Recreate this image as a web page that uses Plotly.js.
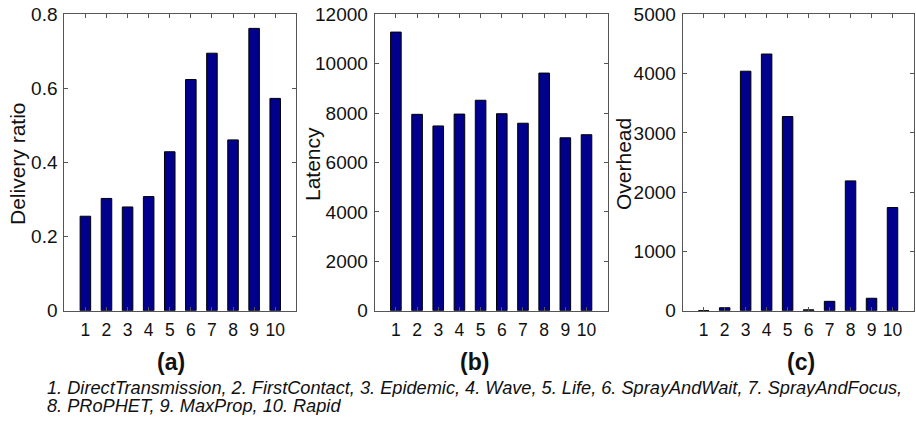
<!DOCTYPE html>
<html>
<head>
<meta charset="utf-8">
<script src="https://cdn.plot.ly/plotly-3.0.1.min.js"></script>
<style>html,body{margin:0;padding:0;background:#fff;}#chart{width:916px;height:422px;}</style>
</head>
<body>
<div id="chart"></div>
<script>
const protocols = [1, 2, 3, 4, 5, 6, 7, 8, 9, 10];
const tickLabels = ['1','2','3','4','5','6','7','8','9','10'];
const deliveryRatio = [0.255, 0.303, 0.280, 0.308, 0.429, 0.624, 0.695, 0.461, 0.762, 0.573];
const latency = [11280, 7950, 7480, 7960, 8520, 7975, 7590, 9620, 7000, 7125];
const overhead = [3, 50, 4040, 4330, 3275, 15, 158, 2190, 210, 1740];
const yTitles = ['Delivery ratio', 'Latency', 'Overhead'];
const panelLabels = ['(a)', '(b)', '(c)'];
const legendLine1 = '1. DirectTransmission, 2. FirstContact, 3. Epidemic, 4. Wave, 5. Life, 6. SprayAndWait, 7. SprayAndFocus,';
const legendLine2 = '8. PRoPHET, 9. MaxProp, 10. Rapid';

const W = 916, H = 422;
const FONT = 'Liberation Sans, Arial, sans-serif';
const px = v => v / W;
const py = v => 1 - v / H;

const barStyle = {color: '#00008C', line: {color: '#000', width: 1}};
const series = [deliveryRatio, latency, overhead];
const traces = series.map((vals, i) => ({
  type: 'bar', x: protocols, y: vals, width: 0.5,
  marker: barStyle, xaxis: i === 0 ? 'x' : 'x' + (i + 1), yaxis: i === 0 ? 'y' : 'y' + (i + 1),
  hoverinfo: 'x+y', showlegend: false
}));

const xDomains = [[64.3, 296.3], [374.7, 607.7], [682.7, 913.5]];
const yDomain = [py(310.7), py(14.3)];
const yRanges = [[0, 0.8], [0, 12000], [0, 5000]];
const yDtick = [0.2, 2000, 1000];

const axisCommon = {
  showline: true, linecolor: '#555', linewidth: 1, mirror: 'ticks',
  ticks: 'inside', ticklen: 4, tickcolor: '#555', showgrid: false, zeroline: false,
  fixedrange: true
};

const layout = {
  width: W, height: H, margin: {l: 0, r: 0, t: 0, b: 0},
  paper_bgcolor: '#fff', plot_bgcolor: '#fff', font: {family: FONT},
  annotations: [], showlegend: false
};

xDomains.forEach((d, i) => {
  const sfx = i === 0 ? '' : String(i + 1);
  layout['xaxis' + sfx] = Object.assign({}, axisCommon, {
    domain: [px(d[0]), px(d[1])], anchor: 'y' + sfx, range: [0, 11],
    tickmode: 'array', tickvals: protocols, ticktext: tickLabels, ticklabelstandoff: 3,
    tickfont: {family: FONT, size: 17.5, color: '#111'}
  });
  layout['yaxis' + sfx] = Object.assign({}, axisCommon, {
    domain: yDomain, anchor: 'x' + sfx, range: yRanges[i],
    tickmode: 'linear', tick0: 0, dtick: yDtick[i], tickformat: i === 0 ? '.1f' : 'd',
    tickfont: {family: FONT, size: 19, color: '#111'}, ticklabelstandoff: 2
  });
});
layout.yaxis.tickmode = 'array';
layout.yaxis.tickvals = [0, 0.2, 0.4, 0.6, 0.8];
layout.yaxis.ticktext = ['0', '0.2', '0.4', '0.6', '0.8'];

const yTitleX = [17, 312, 623];
yTitles.forEach((t, i) => {
  layout.annotations.push({
    text: t, xref: 'paper', yref: 'paper', x: px(yTitleX[i]), y: py(164),
    xanchor: 'center', yanchor: 'middle', textangle: -90, showarrow: false,
    font: {family: FONT, size: 21, color: '#111'}
  });
});
const labelX = [171, 474, 801];
panelLabels.forEach((t, i) => {
  layout.annotations.push({
    text: '<b>' + t + '</b>', xref: 'paper', yref: 'paper', x: px(labelX[i]), y: py(362),
    xanchor: 'center', yanchor: 'middle', showarrow: false,
    font: {family: FONT, size: 23, color: '#111'}
  });
});
[[legendLine1, 388], [legendLine2, 406]].forEach(([t, y]) => {
  layout.annotations.push({
    text: '<i>' + t + '</i>', xref: 'paper', yref: 'paper', x: px(46), y: py(y),
    xanchor: 'left', yanchor: 'middle', showarrow: false, align: 'left',
    height: 18, borderpad: 0, valign: 'middle',
    font: {family: FONT, size: 18.2, color: '#111'}
  });
});

Plotly.newPlot('chart', traces, layout, {staticPlot: true});
</script>
</body>
</html>
